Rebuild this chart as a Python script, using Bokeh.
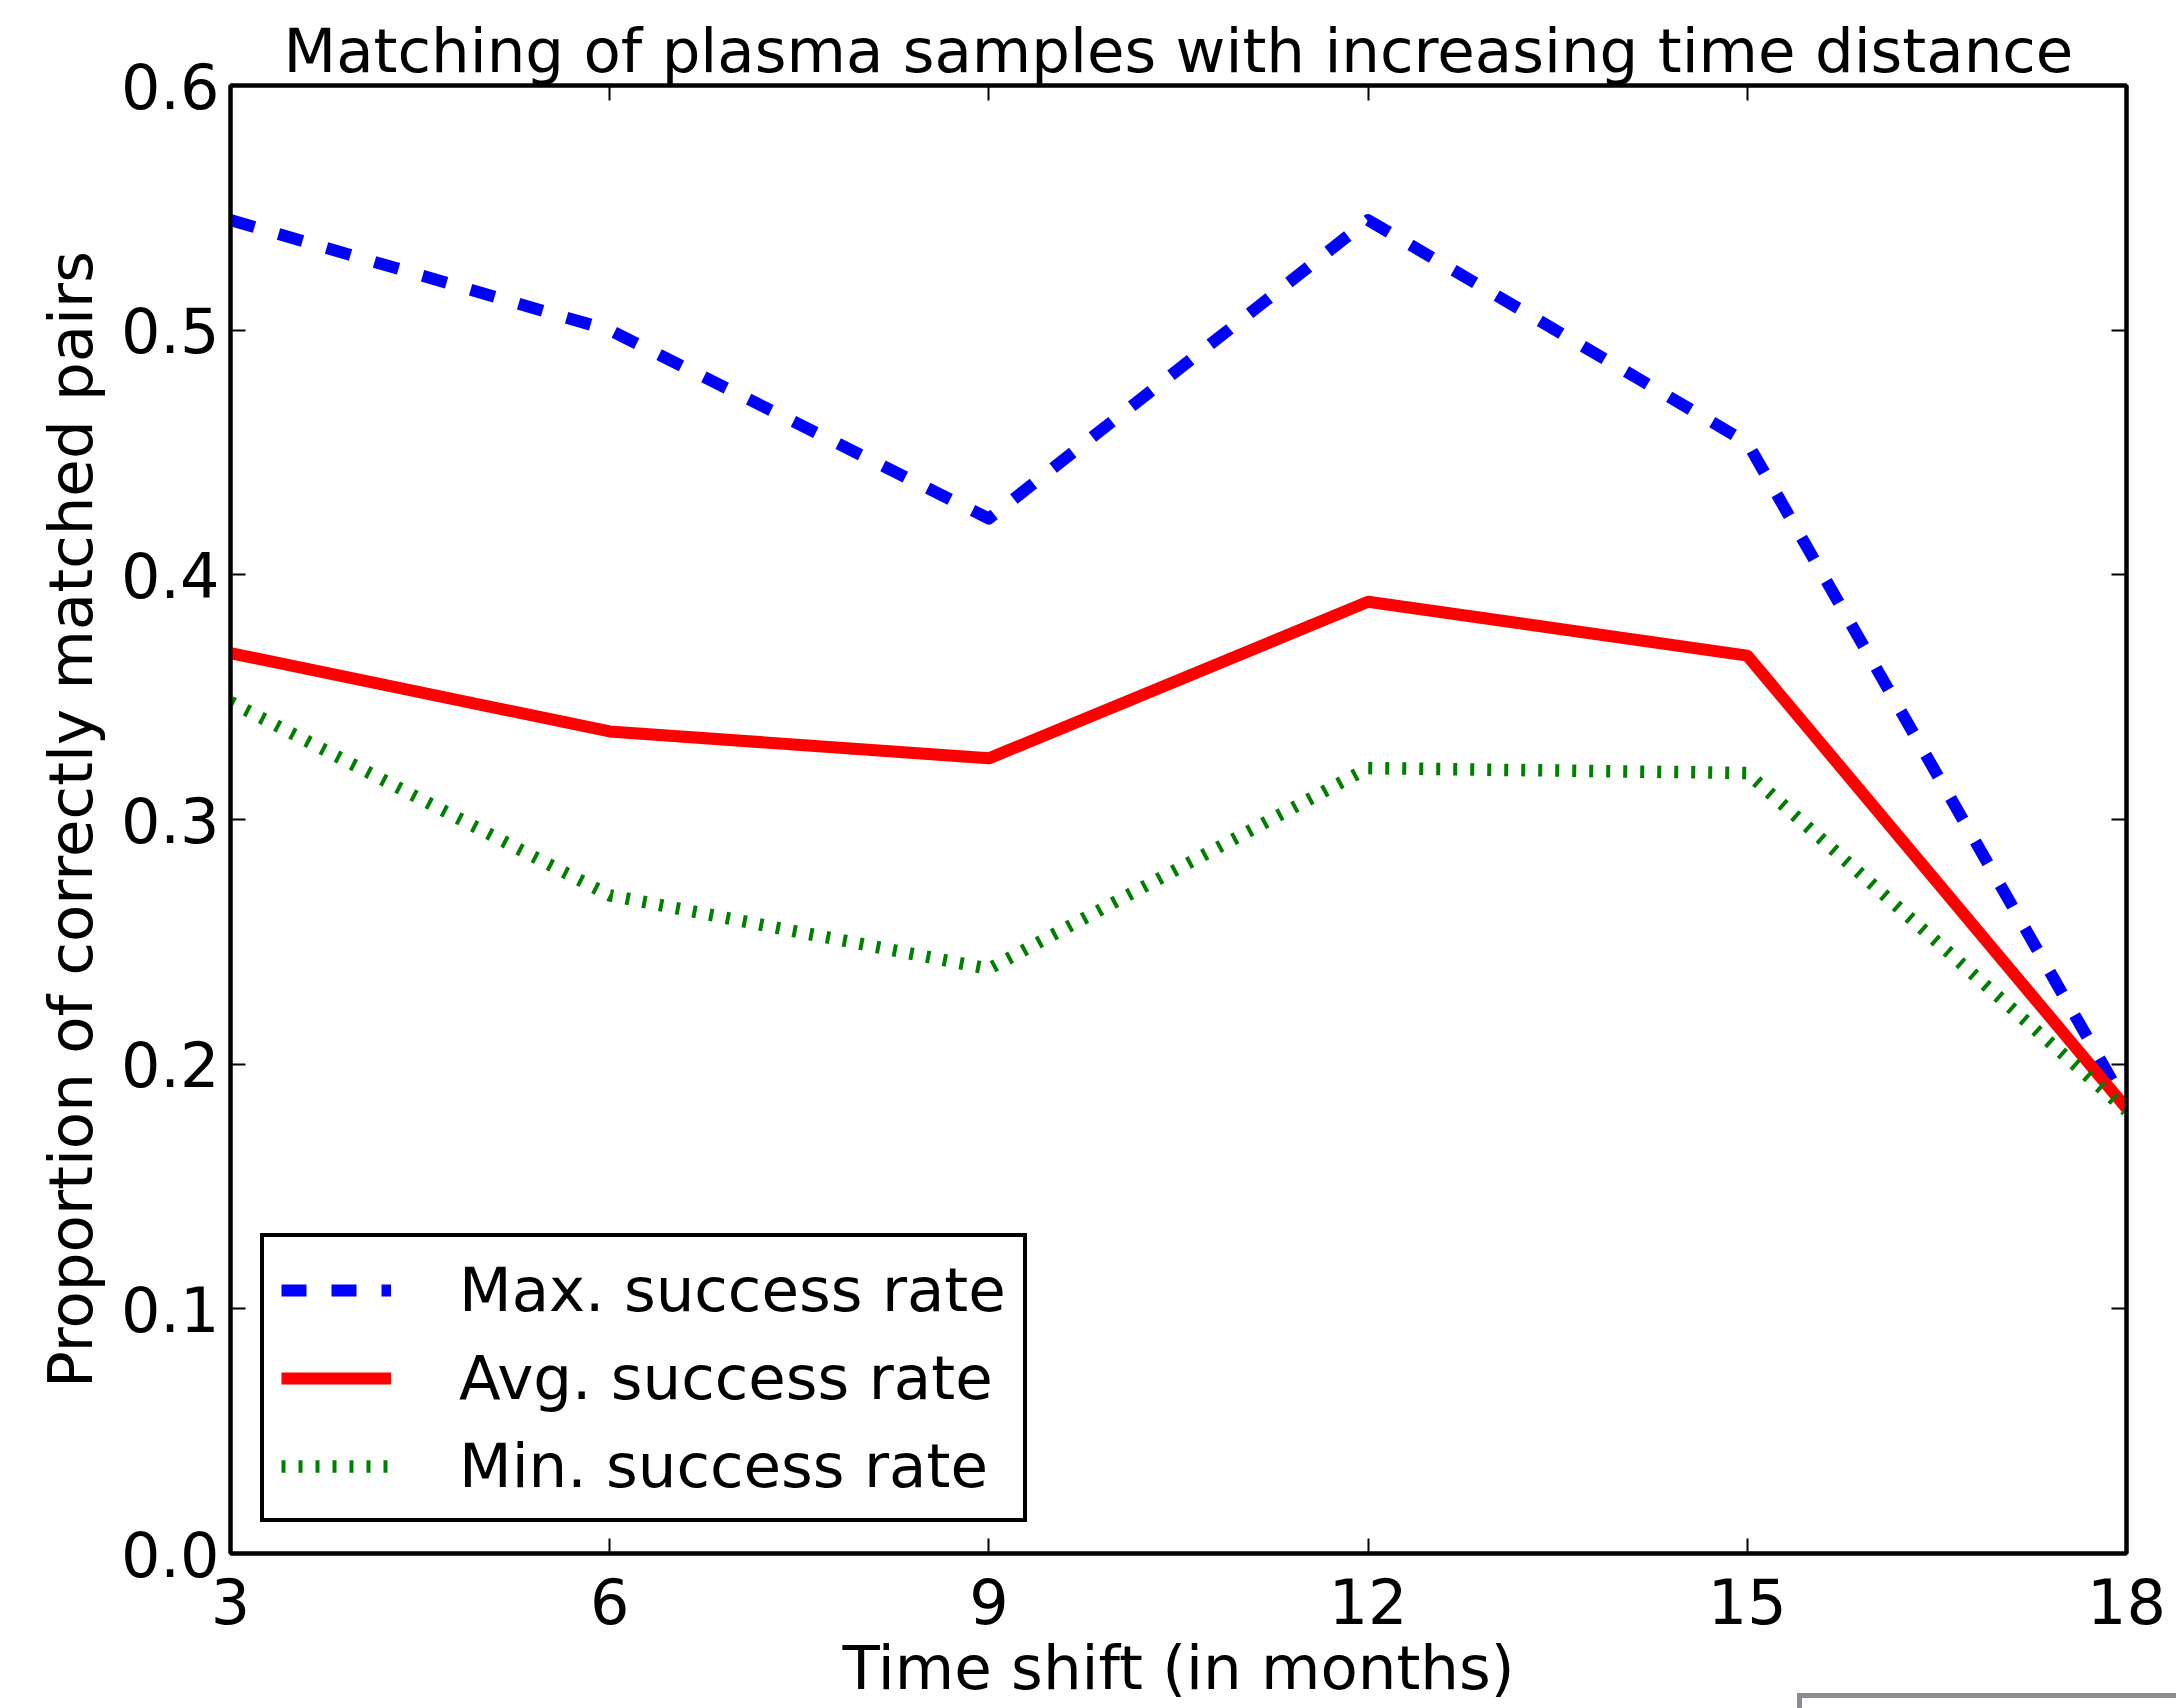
from bokeh.plotting import figure
from bokeh.models import (Range1d, LinearAxis, FixedTicker, Legend, LegendItem,
                          CustomJSTickFormatter, Div)
from bokeh.layouts import column
from bokeh.embed import file_html
from bokeh.resources import INLINE

# ---- data ----
months = [3, 6, 9, 12, 15, 18]
max_rate = [0.545, 0.500, 0.423, 0.545, 0.454, 0.183]
avg_rate = [0.368, 0.336, 0.325, 0.389, 0.367, 0.182]
min_rate = [0.348, 0.269, 0.239, 0.321, 0.319, 0.181]

x_ticks = [3, 6, 9, 12, 15, 18]
y_ticks = [0.0, 0.1, 0.2, 0.3, 0.4, 0.5, 0.6]
y_tick_labels = ["0.0", "0.1", "0.2", "0.3", "0.4", "0.5", "0.6"]

title_text = "Matching of plasma samples with increasing time distance"
x_label = "Time shift (in months)"
y_label = "Proportion of correctly matched pairs"
series_names = ["Max. success rate", "Avg. success rate", "Min. success rate"]

FONT = "DejaVu Sans"
FS = "62px"
FS2 = "61px"

p = figure(width=2176, height=1708, output_backend="svg", toolbar_location=None,
           x_range=Range1d(3, 18), y_range=Range1d(0, 0.6),
           min_border_left=230, min_border_right=50, min_border_top=85,
           min_border_bottom=155, x_axis_label=x_label, y_axis_label=y_label)

p.xgrid.visible = False
p.ygrid.visible = False
p.background_fill_color = "white"
p.border_fill_color = "white"
p.outline_line_color = "black"
p.outline_line_width = 4

# title
p.title.text = title_text
p.title.text_font = FONT
p.title.text_font_size = FS2
p.title.text_font_style = "normal"
p.title.text_color = "black"
p.title.align = "center"
p.title.standoff = 0

def style_axis(ax, labels=True):
    ax.axis_line_width = 4
    ax.axis_line_color = "black"
    ax.major_tick_in = 15
    ax.major_tick_out = 0
    ax.major_tick_line_width = 2
    ax.major_tick_line_color = "black"
    ax.minor_tick_line_color = None
    ax.major_label_text_font = FONT
    ax.major_label_text_font_size = FS
    ax.major_label_text_color = "black"
    ax.axis_label_text_font = FONT
    ax.axis_label_text_font_size = FS2
    ax.axis_label_text_font_style = "normal"
    ax.axis_label_text_color = "black"
    if not labels:
        ax.formatter = CustomJSTickFormatter(code="return ''")
        ax.major_label_text_font_size = "1px"
        ax.major_label_standoff = 0

xax = p.xaxis[0]
yax = p.yaxis[0]
xax.ticker = FixedTicker(ticks=x_ticks)
yax.ticker = FixedTicker(ticks=y_ticks)
yax.major_label_overrides = {t: l for t, l in zip(y_ticks, y_tick_labels)}
style_axis(xax)
style_axis(yax)
xax.major_label_standoff = 24
xax.axis_label_standoff = 5
yax.major_label_standoff = 11
yax.axis_label_standoff = 12

top_ax = LinearAxis(ticker=FixedTicker(ticks=x_ticks))
right_ax = LinearAxis(ticker=FixedTicker(ticks=y_ticks))
style_axis(top_ax, labels=False)
style_axis(right_ax, labels=False)
p.add_layout(top_ax, "above")
p.add_layout(right_ax, "right")

# lines
r_max = p.line(months, max_rate, line_color="#0000ff", line_width=12,
               line_dash="25 25", line_join="round")
r_avg = p.line(months, avg_rate, line_color="#ff0000", line_width=12,
               line_join="round")
r_min = p.line(months, min_rate, line_color="#008000", line_width=12.5,
               line_dash="4 13")

legend = Legend(items=[LegendItem(label=series_names[0], renderers=[r_max]),
                       LegendItem(label=series_names[1], renderers=[r_avg]),
                       LegendItem(label=series_names[2], renderers=[r_min])],
                location=(30, 31))
legend.label_text_font = FONT
legend.label_text_font_size = FS2
legend.label_text_color = "black"
legend.border_line_color = "black"
legend.border_line_alpha = 1
legend.border_line_width = 4
legend.background_fill_color = "white"
legend.background_fill_alpha = 1
legend.padding = 17
legend.spacing = 17
legend.glyph_width = 110
legend.glyph_height = 60
legend.label_height = 60
legend.label_standoff = 68
legend.margin = 0
p.add_layout(legend, "center")

# partial gray frame at the bottom right of the page (overlaps the figure's bottom)
corner = Div(text="", width=379, height=15, margin=(-15, 0, 0, 1797),
             styles={"border-top": "5px solid #8a8d91",
                     "border-left": "5px solid #8a8d91",
                     "box-sizing": "border-box",
                     "background-color": "white"})

layout = column(p, corner, spacing=0)

open("out.html", "w").write(file_html(layout, INLINE))
